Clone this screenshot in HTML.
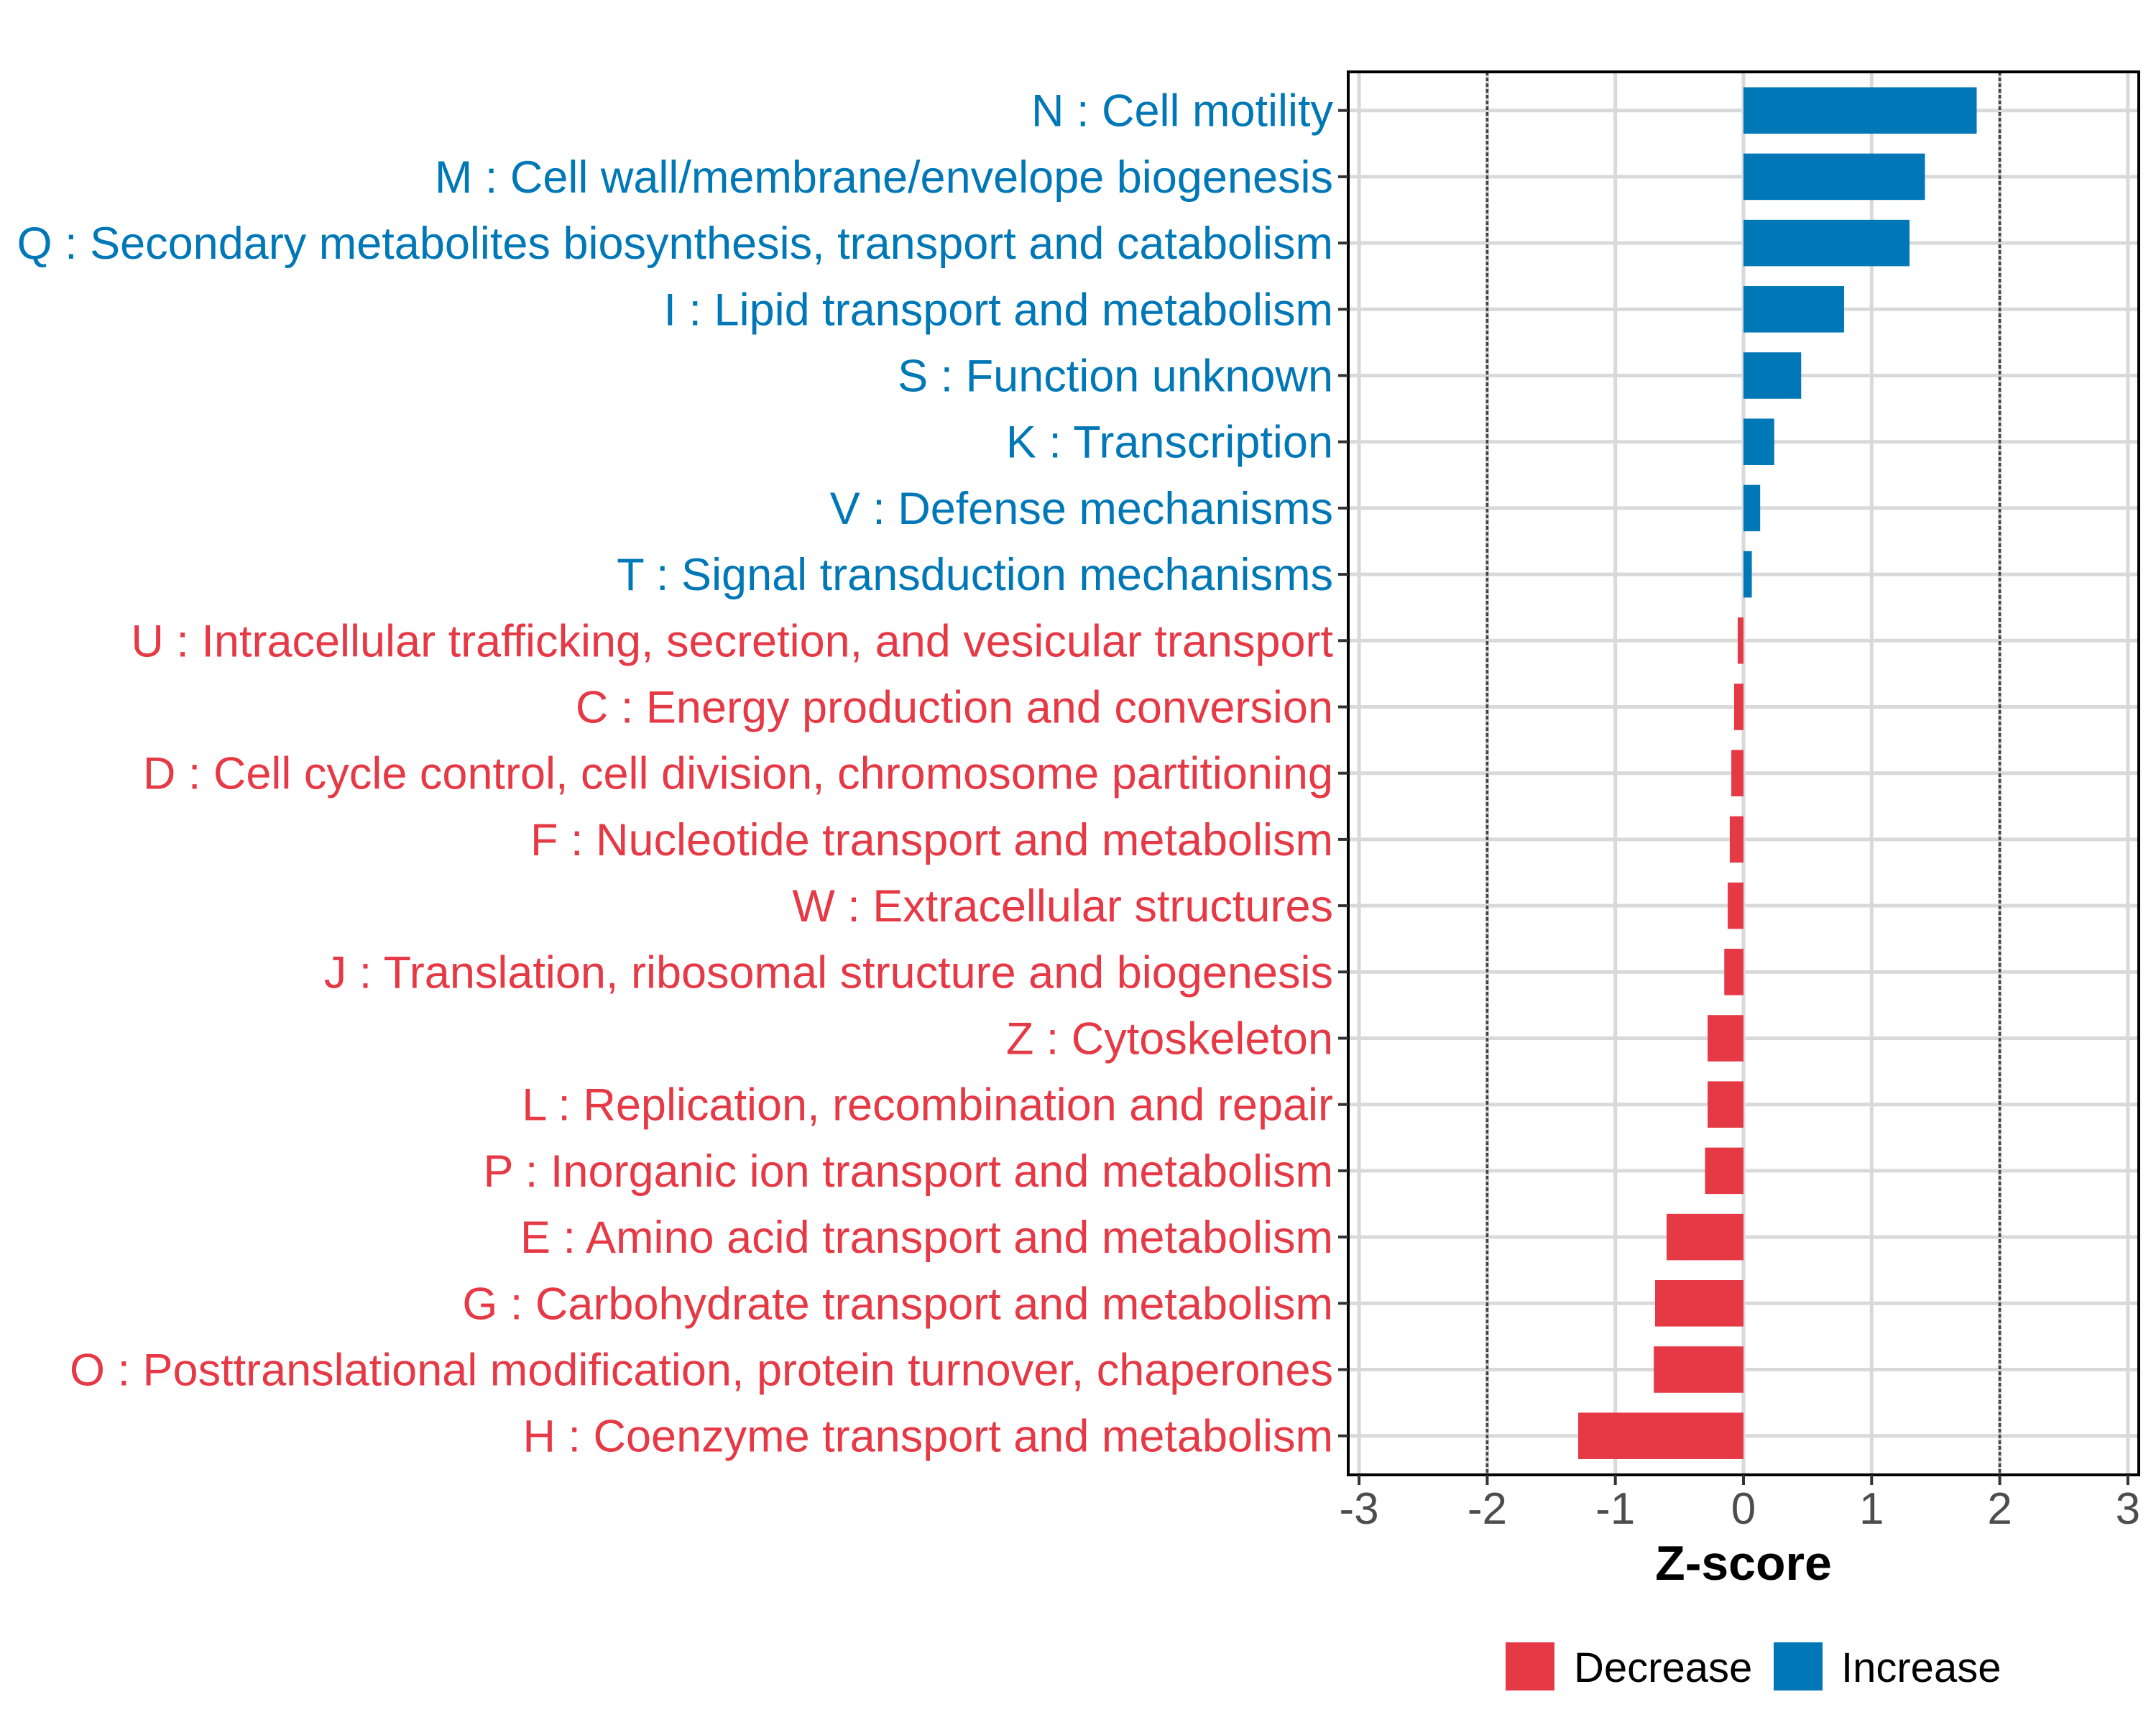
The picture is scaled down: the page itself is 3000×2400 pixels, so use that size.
<!DOCTYPE html>
<html><head><meta charset="utf-8"><style>
html,body{margin:0;padding:0;background:#fff;}
svg{display:block;font-family:"Liberation Sans",Arial,sans-serif;}
</style></head><body>
<svg id="chart" width="3000" height="2400" viewBox="0 0 3000 2400" xmlns="http://www.w3.org/2000/svg">
<rect width="3000" height="2400" fill="#fff"/>
<g id="grid"></g>
<g id="bars"></g>
<g id="refs"></g>
<rect x="1876" y="100" width="1100" height="1952" fill="none" stroke="#000" stroke-width="4"/>
<g id="ylabels"></g>
<g id="xticks"></g>
<text x="2426" y="2198" text-anchor="middle" font-size="68" font-weight="bold" fill="#000">Z-score</text>
<g>
<rect x="2095" y="2285" width="68" height="67" fill="#E63946"/>
<text x="2190" y="2340" font-size="58" fill="#000">Decrease</text>
<rect x="2468" y="2285" width="68" height="67" fill="#0077B6"/>
<text x="2562" y="2340" font-size="58" fill="#000">Increase</text>
</g>
</svg>
<script>
const categories = ["N : Cell motility","M : Cell wall/membrane/envelope biogenesis","Q : Secondary metabolites biosynthesis, transport and catabolism","I : Lipid transport and metabolism","S : Function unknown","K : Transcription","V : Defense mechanisms","T : Signal transduction mechanisms","U : Intracellular trafficking, secretion, and vesicular transport","C : Energy production and conversion","D : Cell cycle control, cell division, chromosome partitioning","F : Nucleotide transport and metabolism","W : Extracellular structures","J : Translation, ribosomal structure and biogenesis","Z : Cytoskeleton","L : Replication, recombination and repair","P : Inorganic ion transport and metabolism","E : Amino acid transport and metabolism","G : Carbohydrate transport and metabolism","O : Posttranslational modification, protein turnover, chaperones","H : Coenzyme transport and metabolism"];
const zscores = [1.82,1.416,1.296,0.785,0.45,0.24,0.13,0.065,-0.045,-0.073,-0.095,-0.107,-0.123,-0.15,-0.28,-0.28,-0.3,-0.6,-0.69,-0.7,-1.29];
const xTicks = [-3,-2,-1,0,1,2,3];
const xTickLabels = ["-3","-2","-1","0","1","2","3"];
const refLines = [-2,2];

const NS="http://www.w3.org/2000/svg";
const X0=2426, UNIT=178.3, Y0=153.7, STEP=92.2, PL=1876, PR=2976, PT=100, PB=2052;
function xs(v){return X0+UNIT*v;}
function ys(i){return Y0+STEP*i;}
function mk(tag,attrs,parent){const e=document.createElementNS(NS,tag);for(const k in attrs)e.setAttribute(k,attrs[k]);parent.appendChild(e);return e;}
const grid=document.getElementById('grid'),bars=document.getElementById('bars'),refs=document.getElementById('refs'),yl=document.getElementById('ylabels'),xt=document.getElementById('xticks');
xTicks.forEach((t,i)=>{
  const l=mk('line',{x1:xs(t),x2:xs(t),y1:PT,y2:PB,stroke:'#d9d9d9','stroke-width':5},grid);
  
  
  const tk=mk('line',{x1:xs(t),x2:xs(t),y1:PB,y2:PB+14,stroke:'#333','stroke-width':4},xt);
  
  
  const tx=mk('text',{x:xs(t),y:2120,'text-anchor':'middle','font-size':'62',fill:'#4d4d4d'},xt);
  tx.textContent=xTickLabels[i];
  
  
});
categories.forEach((c,i)=>{
  const y=ys(i);
  const g=mk('line',{x1:PL,x2:PR,y1:y,y2:y,stroke:'#d9d9d9','stroke-width':5},grid);
  
  
  const v=zscores[i];
  const col=v>=0?'#0077B6':'#E63946';
  const h=STEP*0.7;
  const b=mk('rect',{x:Math.min(xs(0),xs(v)),y:y-h/2,width:Math.abs(xs(v)-xs(0)),height:h,fill:col},bars);
  
  
  const tk=mk('line',{x1:PL-14,x2:PL,y1:y,y2:y,stroke:'#333','stroke-width':4},yl);
  
  
  const t=mk('text',{x:1855,y:y+22,'text-anchor':'end','font-size':'63',fill:col},yl);
  t.textContent=c;
  
  
});
refLines.forEach(r=>{
  const l=mk('line',{x1:xs(r),x2:xs(r),y1:PT,y2:PB,stroke:'#444','stroke-width':3.5,'stroke-dasharray':'5 3'},refs);
  
  
});
</script>
</body></html>
